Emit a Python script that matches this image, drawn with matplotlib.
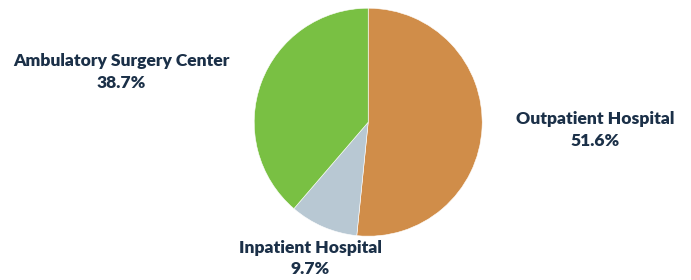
import matplotlib
matplotlib.use("Agg")
import matplotlib.pyplot as plt

categories = ["Outpatient Hospital", "Inpatient Hospital", "Ambulatory Surgery Center"]
values = [51.6, 9.7, 38.7]
colors = ["#D08D49", "#B8C8D3", "#79C043"]
text_color = "#1B3048"

W, H = 691, 280
fig = plt.figure(figsize=(W / 100, H / 100), dpi=100)

cx, cy, r = 368.2, 122.2, 114.0
ax = fig.add_axes([(cx - r) / W, (H - cy - r) / H, 2 * r / W, 2 * r / H])
ax.pie(values, colors=colors, startangle=90, counterclock=False,
       wedgeprops=dict(edgecolor="white", linewidth=0.4), radius=1)
ax.set_xlim(-1, 1)
ax.set_ylim(-1, 1)
ax.set_aspect("equal")
ax.axis("off")

label_pos = {
    "Outpatient Hospital": (595, 130),
    "Inpatient Hospital": (310, 258.5),
    "Ambulatory Surgery Center": (121, 72),
}
for cat, val in zip(categories, values):
    x, y = label_pos[cat]
    fig.text(x / W, 1 - y / H, f"{cat}\n{val:.1f}%", ha="center", va="center",
             fontsize=12.6, fontweight="heavy", family="Lato", color=text_color,
             linespacing=1.4)

fig.savefig("out.png", dpi=100)
